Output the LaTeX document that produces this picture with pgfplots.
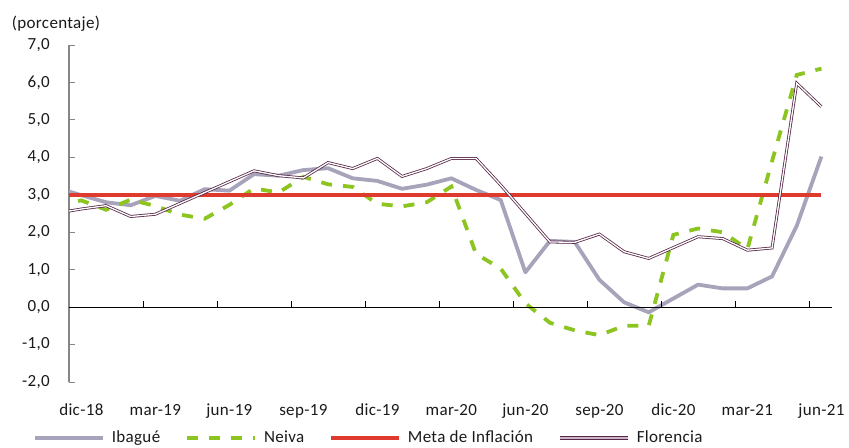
\documentclass[border=0pt]{standalone}
\usepackage{pgfplots}
\usepackage{pgfplotstable}
\pgfplotsset{compat=1.18}
\usepackage{fontspec}
\setmainfont{Carlito}[LetterSpace=2]
\definecolor{ibague}{RGB}{166,163,186}
\definecolor{neiva}{RGB}{140,196,32}
\definecolor{meta}{RGB}{222,58,46}
\definecolor{flor}{RGB}{88,40,72}
\definecolor{florin}{RGB}{205,180,200}
\definecolor{axisgray}{RGB}{134,134,134}
\definecolor{txt}{RGB}{26,26,26}

\pgfplotstableread{
x ib ne fl
-1 3.18 2.70 2.51
0 2.99 2.85 2.62
1 2.80 2.60 2.71
2 2.72 2.87 2.42
3 2.97 2.70 2.48
4 2.84 2.47 2.77
5 3.15 2.36 3.06
6 3.11 2.73 3.35
7 3.55 3.17 3.64
8 3.51 3.06 3.51
9 3.66 3.48 3.45
10 3.71 3.28 3.86
11 3.44 3.21 3.70
12 3.37 2.76 3.97
13 3.16 2.69 3.49
14 3.27 2.80 3.70
15 3.44 3.22 3.97
16 3.13 1.42 3.97
17 2.86 1.03 3.26
18 0.93 0.10 2.50
19 1.77 -0.42 1.74
20 1.74 -0.62 1.73
21 0.73 -0.75 1.95
22 0.13 -0.50 1.48
23 -0.14 -0.50 1.30
24 0.23 1.93 1.59
25 0.60 2.10 1.88
26 0.50 2.00 1.83
27 0.50 1.55 1.52
28 0.82 3.90 1.58
29 2.17 6.20 5.98
30 4.02 6.37 5.35
}\data

\begin{document}
\fontsize{17bp}{20bp}\selectfont
\color{txt}
\begin{tikzpicture}
\useasboundingbox (-69bp,-66bp) rectangle (780bp,382bp);
\begin{axis}[
  at={(0,0)}, anchor=south west,
  scale only axis, width=763bp, height=337bp,
  xmin=-0.5, xmax=30.43, ymin=-2, ymax=7,
  axis y line*=left, axis x line*=bottom,
  x axis line style={draw=none},
  y axis line style={draw=axisgray, line width=1.3bp, -},
  xtick={0,3,...,30},
  xticklabels={dic-18,mar-19,jun-19,sep-19,dic-19,mar-20,jun-20,sep-20,dic-20,mar-21,jun-21},
  major x tick style={draw=none},
  xticklabel style={anchor=base, inner sep=0pt, yshift=-33bp, text=txt},
  ytick={-2,-1,...,7},
  y tick style={draw=axisgray, line width=1bp},
  tick align=inside, major tick length=6bp,
  yticklabel style={anchor=east, inner sep=0pt, xshift=-19bp, text=txt},
  yticklabel={\pgfmathprintnumber[fixed,fixed zerofill,precision=1,use comma,assume math mode=true]{\tick}},
  legend columns=4,
  legend image code/.code={\draw[#1] (0bp,0bp) -- (68bp,0bp);},
  legend style={at={(axis description cs:-0.0472,-0.1662)}, anchor=west,
    draw=none, fill=none, inner sep=0pt, outer sep=0pt,
    nodes={inner sep=0pt, text=txt},
    /tikz/every odd column/.append style={column sep=7bp},
    /tikz/every even column/.append style={column sep=25bp}},
  legend cell align=left,
]
\addplot[ibague, line width=3.8bp, line join=round] table[x=x, y=ib] {\data};
\addlegendentry{Ibagué}
\addplot[neiva, line width=3.8bp, dash pattern=on 11bp off 11bp] table[x=x, y=ne] {\data};
\addlegendentry{Neiva}
\addplot[meta, line width=3.6bp] coordinates {(-1,3) (30,3)};
\addlegendentry{Meta de Inflación}
\addplot[flor, line width=0.8bp, double=white, double distance=1.3bp,
  legend image code/.code={\draw[flor, line width=0.9bp, double=florin, double distance=1.8bp] (0bp,0bp) -- (68bp,0bp);}]
  table[x=x, y=fl] {\data};
\addlegendentry{Florencia}
\draw[black, line width=1bp] (axis cs:-0.5,0) -- (axis cs:30.43,0);
\draw[black, line width=1bp] (axis cs:2.5,0) -- ([yshift=6bp]axis cs:2.5,0);
\draw[black, line width=1bp] (axis cs:5.5,0) -- ([yshift=6bp]axis cs:5.5,0);
\draw[black, line width=1bp] (axis cs:8.5,0) -- ([yshift=6bp]axis cs:8.5,0);
\draw[black, line width=1bp] (axis cs:11.5,0) -- ([yshift=6bp]axis cs:11.5,0);
\draw[black, line width=1bp] (axis cs:14.5,0) -- ([yshift=6bp]axis cs:14.5,0);
\draw[black, line width=1bp] (axis cs:17.5,0) -- ([yshift=6bp]axis cs:17.5,0);
\draw[black, line width=1bp] (axis cs:20.5,0) -- ([yshift=6bp]axis cs:20.5,0);
\draw[black, line width=1bp] (axis cs:23.5,0) -- ([yshift=6bp]axis cs:23.5,0);
\draw[black, line width=1bp] (axis cs:26.5,0) -- ([yshift=6bp]axis cs:26.5,0);
\draw[black, line width=1bp] (axis cs:29.5,0) -- ([yshift=6bp]axis cs:29.5,0);
\end{axis}
\node[anchor=center, inner sep=0pt, text=txt] at (-13bp,358bp) {(porcentaje)};
\end{tikzpicture}
\end{document}
